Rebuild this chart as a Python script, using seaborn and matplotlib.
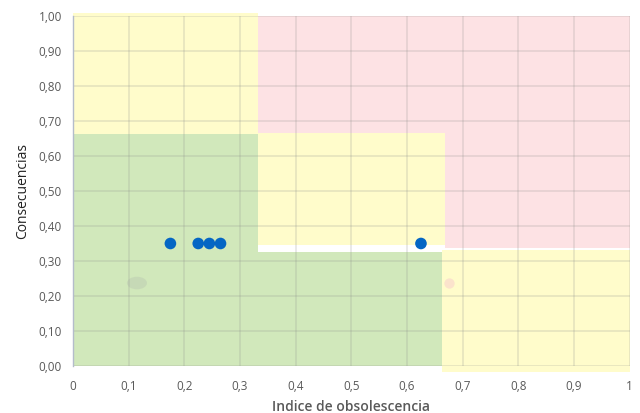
import matplotlib
matplotlib.use("Agg")
import matplotlib.pyplot as plt
from matplotlib.patches import Ellipse
import seaborn as sns
import pandas as pd
from matplotlib.ticker import FuncFormatter

# Equipment evaluated: obsolescence index vs. consequences
indice = [0.175, 0.225, 0.245, 0.265, 0.625]
consecuencias = [0.35, 0.35, 0.35, 0.35, 0.35]

# Faint markers sitting under the risk zones
ghost_x = [0.115, 0.675]
ghost_y = [0.237, 0.237]

# Risk zones: (x0, x1, y0, y1)
zona_verde = [(0.0, 0.333, 0.0, 0.663), (0.333, 0.667, 0.0, 0.327)]
zona_amarilla = [(0.0, 0.333, 0.663, 1.008), (0.333, 0.668, 0.345, 0.667),
                 (0.663, 1.0, -0.017, 0.33)]
zona_roja = [(0.333, 1.0, 0.667, 1.0), (0.668, 1.0, 0.338, 0.667)]

x_ticks = [0, 0.1, 0.2, 0.3, 0.4, 0.5, 0.6, 0.7, 0.8, 0.9, 1.0]
y_ticks = [0, 0.1, 0.2, 0.3, 0.4, 0.5, 0.6, 0.7, 0.8, 0.9, 1.0]

sns.set_style("white")
plt.rcParams["font.family"] = ["Open Sans", "DejaVu Sans"]

fig = plt.figure(figsize=(6.4, 4.13), dpi=100)
ax = fig.add_axes([0.114, 0.114, 0.870, 0.847])

colores = {"verde": "#d1e8bb", "amarilla": "#fffccb", "roja": "#fde2e4"}
for nombre, zonas in (("verde", zona_verde), ("amarilla", zona_amarilla), ("roja", zona_roja)):
    for x0, x1, y0, y1 in zonas:
        ax.fill_between([x0, x1], y0, y1, color=colores[nombre], lw=0,
                        zorder=0, clip_on=False)

ax.add_patch(Ellipse((ghost_x[0], ghost_y[0]), 0.036, 0.036, color="#c5d7b6",
                     alpha=0.85, lw=0, zorder=1))
ax.scatter(ghost_x[1:], ghost_y[1:], s=55, color="#fbe3cc", lw=0, zorder=1)

df = pd.DataFrame({"Indice de obsolescencia": indice, "Consecuencias": consecuencias})
sns.scatterplot(data=df, x="Indice de obsolescencia", y="Consecuencias", ax=ax,
                color="#0466c4", s=70, edgecolor="none", zorder=3)

ax.set_xlim(0, 1.0)
ax.set_ylim(0, 1.0)
ax.set_xticks(x_ticks)
ax.set_yticks(y_ticks)

def fmt_x(v, _):
    if abs(v) < 1e-9:
        return "0"
    if abs(v - 1) < 1e-9:
        return "1"
    return f"{v:.1f}".replace(".", ",")

ax.xaxis.set_major_formatter(FuncFormatter(fmt_x))
ax.yaxis.set_major_formatter(FuncFormatter(lambda v, _: f"{v:.2f}".replace(".", ",")))
ax.tick_params(axis="x", labelsize=8.5, colors="#595959", length=0, pad=10)
ax.tick_params(axis="y", labelsize=8.5, colors="#595959", length=0, pad=8)

ax.grid(True, color="#8a8a8a", alpha=0.2, lw=1.3, zorder=2)
ax.set_axisbelow(False)
for side in ("top", "right", "bottom"):
    ax.spines[side].set_visible(False)
ax.spines["left"].set_color("#b4bccb")
ax.spines["left"].set_linewidth(1.0)
ax.spines["left"].set_zorder(4)

ax.set_xlabel("Indice de obsolescencia", fontsize=10, color="#595959",
              fontweight="semibold", labelpad=5)
ax.set_ylabel("Consecuencias", fontsize=10, color="#222222", labelpad=6)

fig.savefig("out.png", dpi=100)
